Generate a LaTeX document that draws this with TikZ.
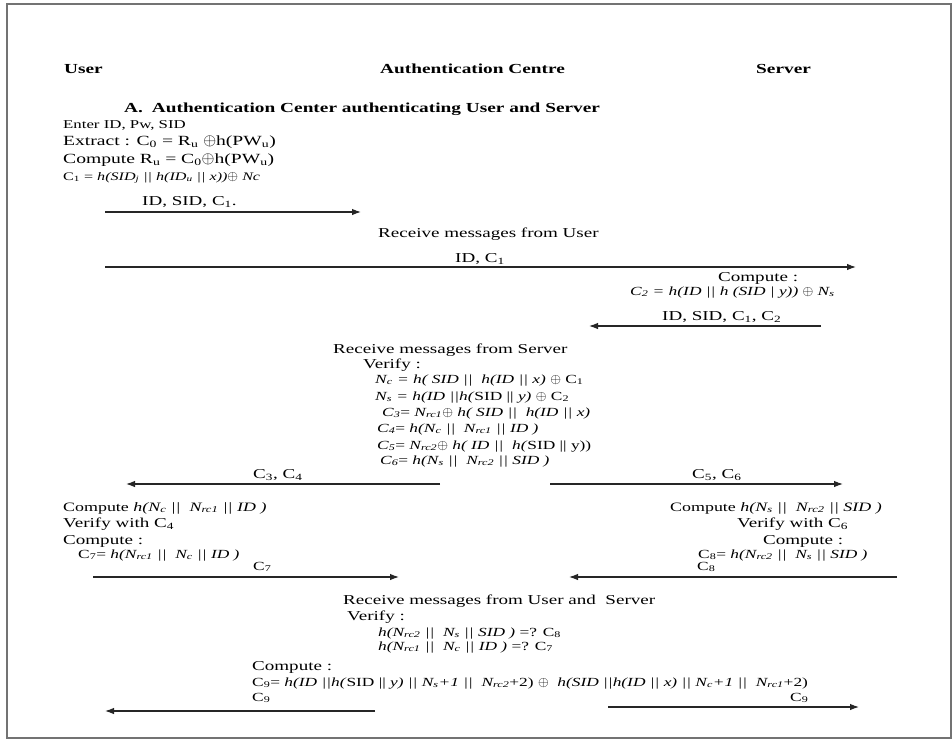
\documentclass[tikz,border=0pt]{standalone}
\usepackage{fontspec}
\setmainfont[FakeStretch=1.4]{Liberation Serif}
\usetikzlibrary{arrows.meta}
\tikzset{
  tx/.style={anchor=base west, inner sep=0pt, font=\fontsize{13.6}{15}\selectfont},
  fx/.style={tx, font=\fontsize{12.4}{14}\selectfont},
  hd/.style={tx, font=\fontsize{13.8}{15}\selectfont\bfseries},
  msg/.style={-{Latex[length=9pt,width=6.5pt]}, line width=1.1pt, black!85},
  frm/.style={draw=black!55, line width=1.2pt}
}
\newcommand{\sbs}[1]{\textsubscript{#1}}
\newcommand{\xo}{\scalebox{1.15}{$\oplus$}}

\begin{document}
\begin{tikzpicture}[x=1pt,y=-1pt]
\useasboundingbox (0,0) rectangle (952,740);
\draw[frm] (7,4) rectangle (951,738);

% parties
\node[hd] (hu) at (64,73) {User};
\node[hd] (hac) at (380,73) {Authentication Centre};
\node[hd] (hs) at (756,73) {Server};
\node[hd] (ttl) at (124,112) {A.\hspace{9pt}Authentication Center authenticating User and Server};

% user side, step 1
\node[tx, font=\fontsize{12}{13}\selectfont] (u1) at (63,128) {Enter ID, Pw, SID};
\node[tx, font=\fontsize{14}{16}\selectfont] (u2) at (63,145) {Extract : C\sbs{0} = R\sbs{u} \xo h(PW\sbs{u})};
\node[tx, font=\fontsize{14}{16}\selectfont] (u3) at (63,163) {Compute R\sbs{u} = C\sbs{0}\xo h(PW\sbs{u})};
\node[fx, font=\fontsize{11.5}{13}\selectfont] (u4) at (63,180) {C\sbs{1} = \textit{h(SID\sbs{j} || h(ID\sbs{u} || x))}\xo\ \textit{Nc}};

\coordinate (m1a) at (105,212); \coordinate (m1b) at (361,212);
\draw[msg] (m1a) -- (m1b);
\node[tx] (l1) at (142,205) {ID, SID, C\sbs{1}.};

\node[tx] (ac1) at (378,237) {Receive messages from User};

\coordinate (m2a) at (105,267); \coordinate (m2b) at (856,267);
\draw[msg] (m2a) -- (m2b);
\node[tx] (l2) at (455,262) {ID, C\sbs{1}};

% server side
\node[tx] (s1) at (718,281) {Compute :};
\node[fx] (s2) at (630,295) {\textit{C\sbs{2} = h(ID || h (SID | y))} \xo\ \textit{N\sbs{s}}};

\coordinate (m3a) at (821,326); \coordinate (m3b) at (589,326);
\draw[msg] (m3a) -- (m3b);
\node[tx] (l3) at (662,320) {ID, SID, C\sbs{1}, C\sbs{2}};

% authentication centre
\node[tx] (ac2) at (333,353) {Receive messages from Server};
\node[tx] (ac3) at (363,368) {Verify :};
\node[fx] (ac4) at (375,383) {\textit{N\sbs{c} = h( SID ||\ \ h(ID || x)} \xo\ C\sbs{1}};
\node[fx] (ac5) at (375,400) {\textit{N\sbs{s} = h(ID ||h(}SID || \textit{y)} \xo\ C\sbs{2}};
\node[fx] (ac6) at (382,416) {\textit{C\sbs{3}}= \textit{N\sbs{rc1}}\xo\ \textit{h( SID ||\ \ h(ID || x)}};
\node[fx] (ac7) at (377,432) {\textit{C\sbs{4}}= \textit{h(N\sbs{c} ||\ \ N\sbs{rc1} || ID )}};
\node[fx] (ac8) at (377,449) {\textit{C\sbs{5}}= \textit{N\sbs{rc2}}\xo\ \textit{h( ID ||\ \ h(}SID || y))};
\node[fx] (ac9) at (380,464) {\textit{C\sbs{6}}= \textit{h(N\sbs{s} ||\ \ N\sbs{rc2} || SID )}};

\coordinate (m4a) at (440,484); \coordinate (m4b) at (126,484);
\draw[msg] (m4a) -- (m4b);
\node[tx] (l4) at (253,478) {C\sbs{3}, C\sbs{4}};
\coordinate (m5a) at (550,484); \coordinate (m5b) at (843,484);
\draw[msg] (m5a) -- (m5b);
\node[tx] (l5) at (692,478) {C\sbs{5}, C\sbs{6}};

% user side, step 2
\node[tx, font=\fontsize{12.8}{15}\selectfont] (u5) at (63,511) {Compute \textit{h(N\sbs{c} ||\ \ N\sbs{rc1} || ID )}};
\node[tx] (u6) at (63,527) {Verify with C\sbs{4}};
\node[tx] (u7) at (63,544) {Compute :};
\node[fx] (u8) at (78,558) {C\sbs{7}= \textit{h(N\sbs{rc1} ||\ \ N\sbs{c} || ID )}};

\coordinate (m6a) at (93,577); \coordinate (m6b) at (399,577);
\draw[msg] (m6a) -- (m6b);
\node[fx] (l6) at (253,570) {C\sbs{7}};

% server side, step 2
\node[tx, font=\fontsize{12.8}{15}\selectfont] (s3) at (670,511) {Compute \textit{h(N\sbs{s} ||\ \ N\sbs{rc2} || SID )}};
\node[tx] (s4) at (737,527) {Verify with C\sbs{6}};
\node[tx] (s5) at (763,544) {Compute :};
\node[fx] (s6) at (698,558) {C\sbs{8}= \textit{h(N\sbs{rc2} ||\ \ N\sbs{s} || SID )}};

\coordinate (m7a) at (897,577); \coordinate (m7b) at (569,577);
\draw[msg] (m7a) -- (m7b);
\node[fx] (l7) at (697,570) {C\sbs{8}};

% authentication centre, step 2
\node[tx] (ac10) at (343,604) {Receive messages from User and\ \ Server};
\node[tx] (ac11) at (347,620) {Verify :};
\node[fx] (ac12) at (378,636) {\textit{h(N\sbs{rc2} ||\ \ N\sbs{s} || SID )} =? C\sbs{8}};
\node[fx] (ac13) at (378,650) {\textit{h(N\sbs{rc1} ||\ \ N\sbs{c} || ID )} =? C\sbs{7}};
\node[tx] (ac14) at (252,670) {Compute :};
\node[fx] (ac15) at (252,686) {C\sbs{9}= \textit{h(ID ||h(}SID || \textit{y) || N\sbs{s}+1 ||\ \ N\sbs{rc2}}+2) \xo\ \ \textit{h(SID ||h(ID || x) || N\sbs{c}+1 ||\ \ N\sbs{rc1}}+2)};
\node[fx] (ac16) at (252,701) {C\sbs{9}};

\coordinate (m8a) at (375,711); \coordinate (m8b) at (105,711);
\draw[msg] (m8a) -- (m8b);
\coordinate (m9a) at (608,707); \coordinate (m9b) at (859,707);
\draw[msg] (m9a) -- (m9b);
\node[fx] (l9) at (790,701) {C\sbs{9}};
\end{tikzpicture}
\end{document}
